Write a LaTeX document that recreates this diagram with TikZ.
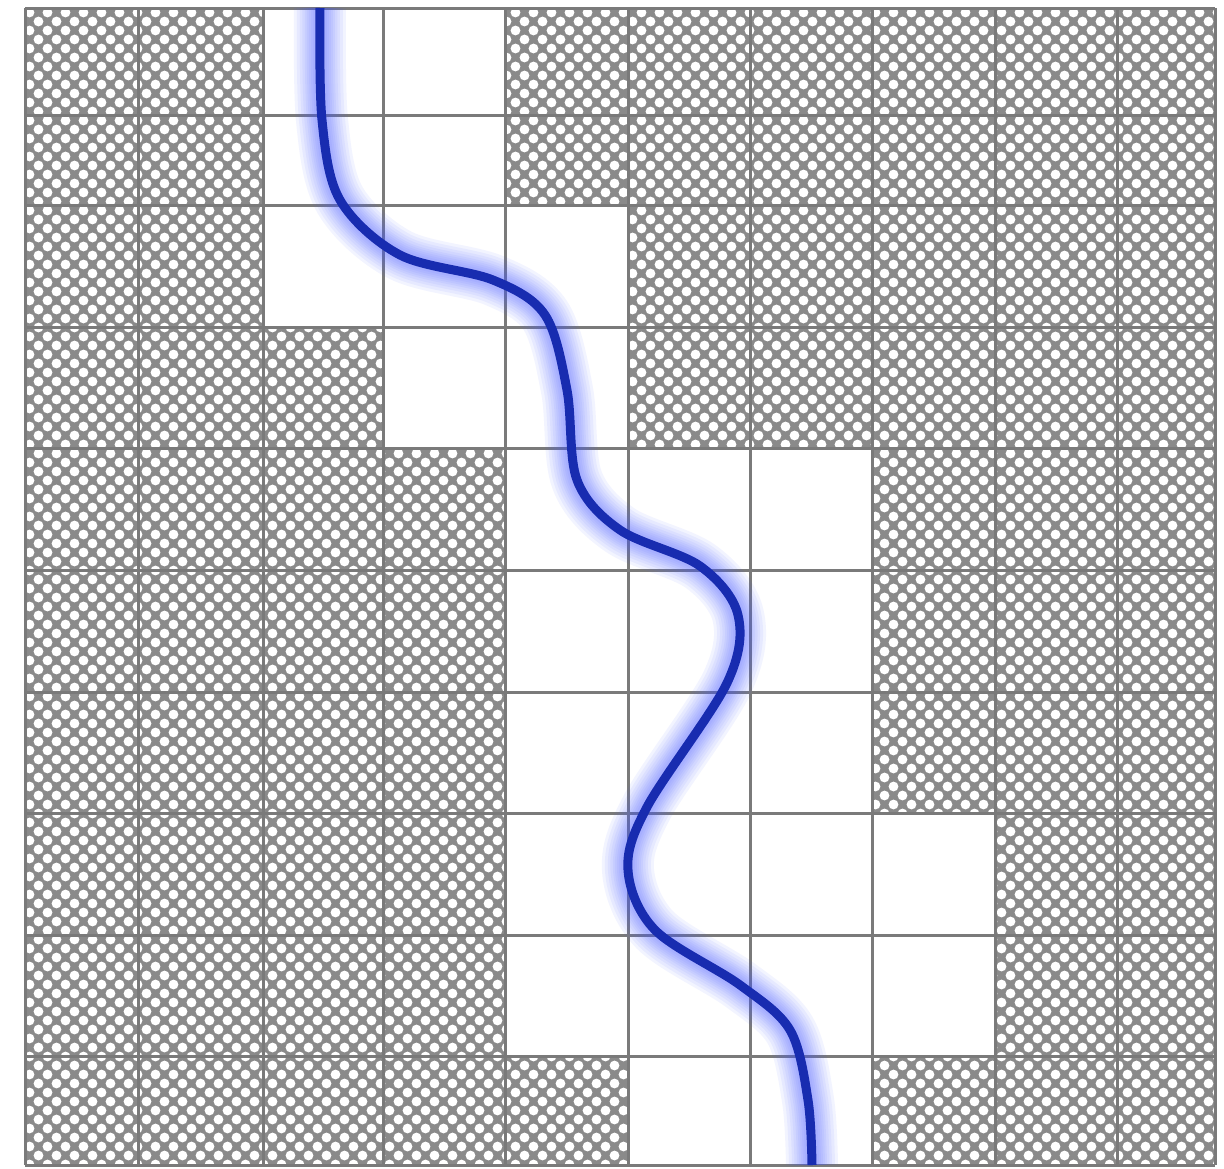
\documentclass[tikz,border=0pt]{standalone}
\definecolor{gridGray}{RGB}{122,122,122}
\definecolor{hatchGray}{RGB}{138,138,138}
\definecolor{pathBlue}{RGB}{24,44,176}
\definecolor{glowBlue}{RGB}{70,90,255}
\tikzset{
  hatched/.style={fill=hatchGray},
  hole/.style={fill=white},
  opencell/.style={fill=white},
  gridline/.style={draw=gridGray, line width=3pt},
  glow/.style={draw=glowBlue, line width=#1},
  wave/.style={draw=pathBlue, line width=9pt}
}
\newcommand{\routecurve}{plot[smooth, tension=0.55] coordinates {(320,8) (322,120) (340,200) (400,255) (493,280) (545,315) (567,390) (577,480) (620,530) (700,566) (738,615) (727,683) (647,807) (628,870) (655,930) (740,985) (790,1030) (808,1100) (812,1165)}}

\begin{document}
\begin{tikzpicture}[x=1pt,y=-1pt]
  \useasboundingbox[fill=white] (0,0) rectangle (1224,1168);

  % blocked cells
  \begin{scope}
    \clip (25,8) rectangle (1215,1165);
    \path[hatched] (25,8) rectangle (1215,1165);
    \foreach \j in {0,...,64}
      \path[hole] \foreach \i in {0,...,66} {(29.5+18*\i,12.5+18*\j) circle (4.9pt) (38.5+18*\i,21.5+18*\j) circle (4.9pt)};
  \end{scope}

  % free cells
  \fill[opencell] (263,8) rectangle (505,205);
  \fill[opencell] (263,205) rectangle (628,327);
  \fill[opencell] (383,327) rectangle (628,448);
  \fill[opencell] (505,448) rectangle (872,813);
  \fill[opencell] (505,813) rectangle (995,1056);
  \fill[opencell] (628,1056) rectangle (872,1165);

  % grid
  \foreach \gx in {25,138,263,383,505,628,750,872,995,1117,1215}
    \draw[gridline] (\gx,8) -- (\gx,1165);
  \foreach \gy in {8,115,205,327,448,570,692,813,935,1056,1165}
    \draw[gridline] (25,\gy) -- (1215,\gy);

  % route with glow
  \foreach \gw in {52,46,40,35,30,26,22,18,14}
    \draw[glow=\gw pt, opacity=0.065] \routecurve;
  \draw[wave] \routecurve;
\end{tikzpicture}
\end{document}
